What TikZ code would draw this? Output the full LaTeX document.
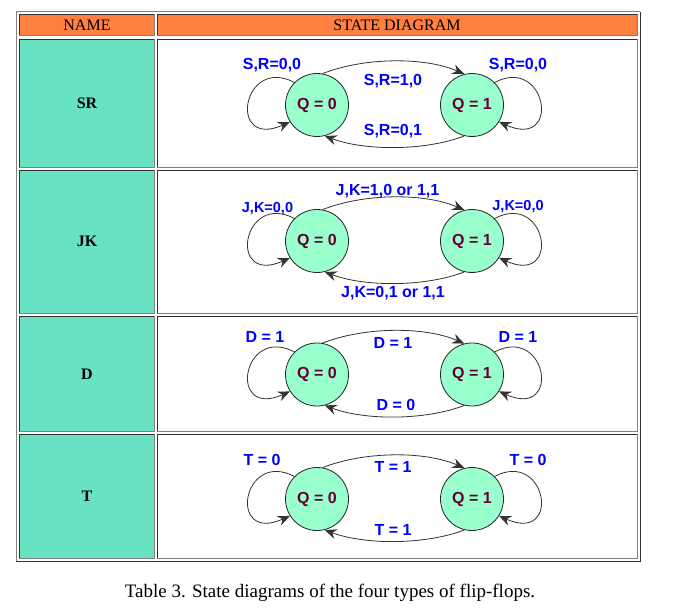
\documentclass[tikz,border=0pt]{standalone}
\usepackage{fontspec}
\setmainfont{Liberation Serif}
\newfontfamily\arialf{Liberation Sans}
\usetikzlibrary{arrows.meta}
\definecolor{hdr}{RGB}{255,128,64}
\definecolor{namec}{RGB}{105,225,195}
\definecolor{stfill}{RGB}{153,255,204}
\definecolor{qtext}{RGB}{102,0,51}
\definecolor{edgedk}{RGB}{48,48,48}
\definecolor{edgelt}{RGB}{128,128,128}
\newcommand\tcell[5]{%
  \fill[#5] (#1,#2) rectangle (#3,#4);
  \draw[dkedge] (#1,#4) -- (#1,#2) -- (#3,#2);
  \draw[ltedge] (#3,#2) -- (#3,#4) -- (#1,#4);}
\newcommand\fsm[2]{%
  \begin{scope}[shift={(0,#2)}]
    \node[st] (#1a) at (317,0) {Q = 0};
    \node[st] (#1b) at (472,0) {Q = 1};
    \draw[tr] (#1a.80) .. controls (365,-48) and (425,-48) .. (#1b.104);
    \draw[tr] (#1b.256) .. controls (425,46) and (365,46) .. (#1a.284);
    \draw[tr] (#1a.135) .. controls (242,-50) and (227,45) .. (#1a.212);
    \draw[tr] (#1b.45) .. controls (547,-50) and (562,45) .. (#1b.-32);
  \end{scope}}
\begin{document}
\begin{tikzpicture}[x=1pt,y=-1pt,
  dkedge/.style={draw=edgedk,line width=1pt},
  ltedge/.style={draw=edgelt,line width=1pt},
  st/.style={circle,draw=black!85,line width=0.8pt,fill=stfill,minimum size=63pt,inner sep=0pt,text=qtext,font=\arialf\bfseries\fontsize{16}{16}\selectfont},
  tr/.style={draw=black!80,line width=0.8pt,-{Stealth[length=12pt,width=10pt,inset=4pt]}},
  lbl/.style={text=blue,font=\arialf\bfseries\fontsize{16}{16}\selectfont,inner sep=0pt,anchor=base,yshift=-5.7pt},
  slbl/.style={lbl,font=\arialf\bfseries\fontsize{14.5}{15}\selectfont,yshift=-5.2pt},
  hd/.style={font=\fontsize{16}{16}\selectfont,inner sep=0pt,anchor=base,yshift=-5.3pt},
  nm/.style={font=\bfseries\fontsize{16}{16}\selectfont,inner sep=0pt,anchor=base,yshift=-5.3pt},
  captxt/.style={font=\fontsize{19}{19}\selectfont,inner sep=0pt,anchor=base,yshift=-6.2pt}]
\useasboundingbox (0,0) rectangle (697,610);
\fill[white] (0,0) rectangle (697,610);
% outer table border
\draw[ltedge] (16.3,561) -- (16.3,11.7) -- (640.3,11.7);
\draw[dkedge] (640.3,11.7) -- (640.3,561) -- (16.3,561);
% header
\tcell{19.3}{14.3}{154.3}{36}{hdr}
\tcell{157.3}{14.3}{637.7}{36}{hdr}
% rows
\tcell{19.3}{39.3}{154.3}{167.3}{namec}
\tcell{157.3}{39.3}{637.7}{167.3}{white}
\tcell{19.3}{170.3}{154.3}{313.3}{namec}
\tcell{157.3}{170.3}{637.7}{313.3}{white}
\tcell{19.3}{316.3}{154.3}{431.7}{namec}
\tcell{157.3}{316.3}{637.7}{431.7}{white}
\tcell{19.3}{434.3}{154.3}{558.3}{namec}
\tcell{157.3}{434.3}{637.7}{558.3}{white}
% header texts
\node[hd] (hname) at (87,25) {NAME};
\node[hd] (hdiag) at (397,25) {STATE DIAGRAM};
% name texts
\node[nm] (nsr) at (87,103) {SR};
\node[nm] (njk) at (87,241.5) {JK};
\node[nm] (nd) at (87,374) {D};
\node[nm] (nt) at (87,496) {T};
% diagrams
\fsm{sr}{105}
\fsm{jk}{241}
\fsm{d}{374.5}
\fsm{t}{499}
% SR labels
\node[lbl] (srl1) at (272,64) {S,R=0,0};
\node[lbl] (srl2) at (518,64) {S,R=0,0};
\node[lbl] (srl3) at (393,80) {S,R=1,0};
\node[lbl] (srl4) at (393,130) {S,R=0,1};
% JK labels
\node[slbl] (jkl1) at (267.5,202) {J,K=0,0};
\node[slbl] (jkl2) at (518,200) {J,K=0,0};
\node[lbl] (jkl3) at (387.5,190) {J,K=1,0 or 1,1};
\node[lbl] (jkl4) at (393,292) {J,K=0,1 or 1,1};
% D labels
\node[lbl] (dl1) at (265,337) {D = 1};
\node[lbl] (dl2) at (518,337) {D = 1};
\node[lbl] (dl3) at (393,343) {D = 1};
\node[lbl] (dl4) at (396,405) {D = 0};
% T labels
\node[lbl] (tl1) at (262,460) {T = 0};
\node[lbl] (tl2) at (528,460) {T = 0};
\node[lbl] (tl3) at (393,467) {T = 1};
\node[lbl] (tl4) at (393,530) {T = 1};
% caption
\node[captxt] (caption) at (330,591.7) {Table 3. State diagrams of the four types of flip-flops.};
\end{tikzpicture}
\end{document}
